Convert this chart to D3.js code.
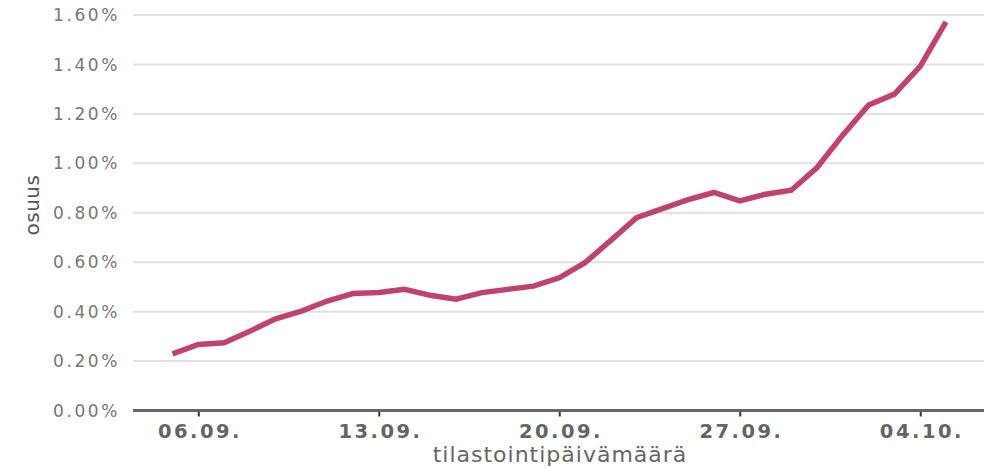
<!DOCTYPE html>
<html>
<head>
<meta charset="utf-8">
<script src="https://cdn.jsdelivr.net/npm/d3@7"></script>
<style>
  html, body { margin: 0; padding: 0; background: #fff; }
  svg { display: block; }
</style>
</head>
<body>
<svg id="chart" width="984" height="468"></svg>
<script>
// ---- data ----
const dates = [
  "2021-09-05","2021-09-06","2021-09-07","2021-09-08","2021-09-09","2021-09-10",
  "2021-09-11","2021-09-12","2021-09-13","2021-09-14","2021-09-15","2021-09-16",
  "2021-09-17","2021-09-18","2021-09-19","2021-09-20","2021-09-21","2021-09-22",
  "2021-09-23","2021-09-24","2021-09-25","2021-09-26","2021-09-27","2021-09-28",
  "2021-09-29","2021-09-30","2021-10-01","2021-10-02","2021-10-03","2021-10-04",
  "2021-10-05"
];
const osuus = [
  0.229, 0.267, 0.274, 0.321, 0.371, 0.402,
  0.443, 0.473, 0.477, 0.490, 0.466, 0.450,
  0.477, 0.490, 0.503, 0.537, 0.598, 0.688,
  0.780, 0.817, 0.853, 0.882, 0.848, 0.875,
  0.891, 0.983, 1.115, 1.236, 1.280, 1.392,
  1.572
];
const yTicks = [0, 0.2, 0.4, 0.6, 0.8, 1.0, 1.2, 1.4, 1.6];
const xTickDates = ["2021-09-06","2021-09-13","2021-09-20","2021-09-27","2021-10-04"];
const xTitle = "tilastointipäivämäärä";
const yTitle = "osuus";

// ---- chart ----
const parse = d3.timeParse("%Y-%m-%d");
const data = dates.map((d, i) => ({ date: parse(d), value: osuus[i] }));

const svg = d3.select("#chart");
const plotLeft = 133, plotRight = 984;
const x = d3.scaleTime()
  .domain([parse(dates[0]), parse(dates[dates.length - 1])])
  .range([172.5, 946]);
const y = d3.scaleLinear().domain([0, 1.6]).range([410.5, 15]);

// gridlines
svg.append("g")
  .selectAll("line")
  .data(yTicks.filter(v => v > 0))
  .join("line")
  .attr("x1", plotLeft).attr("x2", plotRight)
  .attr("y1", d => y(d)).attr("y2", d => y(d))
  .attr("stroke", "#dfe1e3").attr("stroke-width", 2);

// y tick labels
svg.append("g")
  .selectAll("text")
  .data(yTicks)
  .join("text")
  .attr("x", 120)
  .attr("y", d => y(d))
  .attr("dy", "0.36em")
  .attr("text-anchor", "end")
  .attr("font-family", "DejaVu Sans, Verdana, sans-serif")
  .attr("font-size", 17)
  .attr("letter-spacing", 2.6)
  .attr("fill", "#767676")
  .text(d => d.toFixed(2) + "%");

// y title
svg.append("text")
  .attr("transform", `translate(32, 205) rotate(-90)`)
  .attr("text-anchor", "middle")
  .attr("dy", "0.35em")
  .attr("font-family", "DejaVu Sans, Verdana, sans-serif")
  .attr("font-size", 20)
  .attr("letter-spacing", 0.5)
  .attr("fill", "#555")
  .text(yTitle);

// x axis
const xAxis = d3.axisBottom(x)
  .tickValues(xTickDates.map(parse))
  .tickFormat(d3.timeFormat("%d.%m."))
  .tickSize(6)
  .tickPadding(8)
  .tickSizeOuter(0);

const gx = svg.append("g")
  .attr("transform", `translate(0, ${y(0)})`)
  .call(xAxis);
gx.select(".domain").remove();
gx.selectAll(".tick line").attr("stroke", "#333").attr("stroke-width", 2);
gx.selectAll(".tick text")
  .attr("font-family", "DejaVu Sans, Verdana, sans-serif")
  .attr("font-size", 19.5)
  .attr("font-weight", "bold")
  .attr("letter-spacing", 2.5)
  .attr("dx", 1.2)
  .attr("fill", "#646464");
gx.append("line")
  .attr("x1", plotLeft).attr("x2", plotRight)
  .attr("y1", 0).attr("y2", 0)
  .attr("stroke", "#666").attr("stroke-width", 3);

// x title
svg.append("text")
  .attr("x", 560)
  .attr("y", 462)
  .attr("text-anchor", "middle")
  .attr("font-family", "DejaVu Sans, Verdana, sans-serif")
  .attr("font-size", 22)
  .attr("letter-spacing", 1)
  .attr("fill", "#666")
  .text(xTitle);

// line
const line = d3.line()
  .x(d => x(d.date))
  .y(d => y(d.value));
svg.append("path")
  .datum(data)
  .attr("d", line)
  .attr("fill", "none")
  .attr("stroke", "#c0436f")
  .attr("stroke-width", 5.5)
  .attr("stroke-linejoin", "miter");
</script>
</body>
</html>
